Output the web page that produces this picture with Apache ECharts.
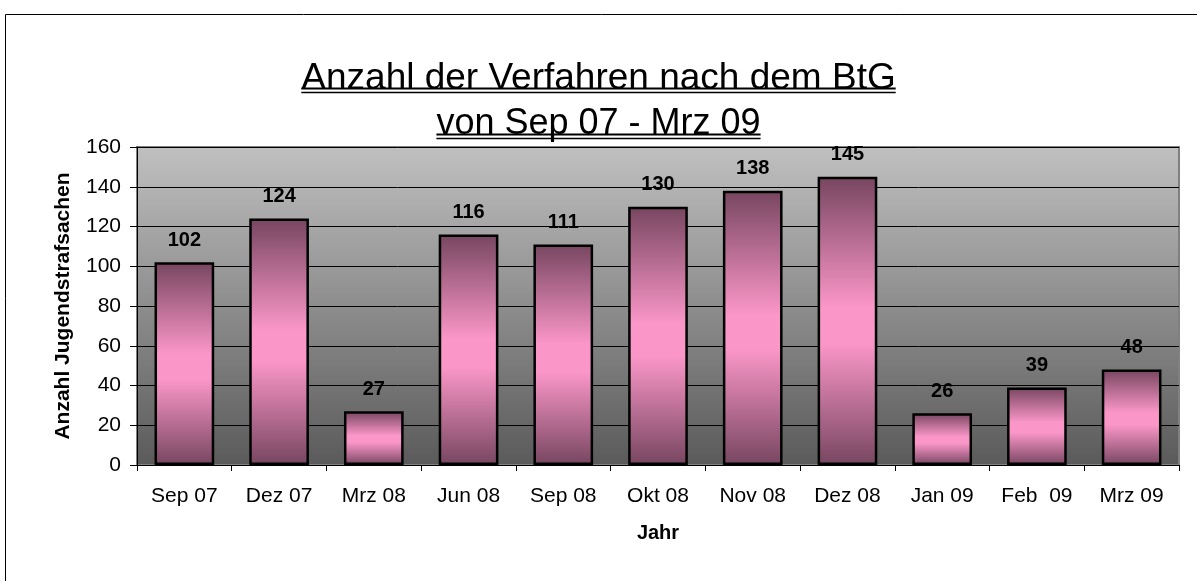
<!DOCTYPE html>
<html lang="de">
<head>
    <meta http-equiv="Content-Type" content="text/html; charset=utf-8">
    <script type="text/javascript" src="https://cdn.jsdelivr.net/npm/echarts@6/dist/echarts.min.js"></script>
    <title>Anzahl der Verfahren nach dem BtG</title>
    <style>
        html, body { margin: 0; padding: 0; background: #fff; }
        #chart { width: 1197px; height: 581px; }
    </style>
</head>
<body>
<div id="chart"></div>

<script>
// Monate (Kategorien) und Werte
const months = ['Sep 07', 'Dez 07', 'Mrz 08', 'Jun 08', 'Sep 08', 'Okt 08', 'Nov 08', 'Dez 08', 'Jan 09', 'Feb  09', 'Mrz 09'];
const verfahren = [102, 124, 27, 116, 111, 130, 138, 145, 26, 39, 48];
const titleLines = ['Anzahl der Verfahren nach dem BtG', 'von Sep 07 - Mrz 09'];

const FONT = 'Liberation Sans, Arial, sans-serif';
const W = 1197;

// Breite der Titelzeilen messen, damit die Unterstreichung passt
function textWidth(txt, size) {
    const ctx = document.createElement('canvas').getContext('2d');
    ctx.font = size + 'px ' + FONT;
    return ctx.measureText(txt).width;
}

function underline(txt, size, y) {
    const w = textWidth(txt, size);
    const x1 = W / 2 - w / 2, x2 = W / 2 + w / 2;
    return [
        { type: 'line', shape: { x1: x1, y1: y, x2: x2, y2: y }, style: { stroke: '#000', lineWidth: 2 } },
        { type: 'line', shape: { x1: x1, y1: y + 4, x2: x2, y2: y + 4 }, style: { stroke: '#000', lineWidth: 1.5 } }
    ];
}

let chart = echarts.init(document.getElementById('chart'));

const barColor = new echarts.graphic.LinearGradient(0, 0, 0, 1, [
    { offset: 0, color: '#774660' },
    { offset: 0.45, color: '#fa96c8' },
    { offset: 0.58, color: '#fa96c8' },
    { offset: 1, color: '#774660' }
]);

const option = {
    animation: false,
    title: [
        { text: titleLines[0], left: 'center', top: 55, textStyle: { fontFamily: FONT, fontSize: 37, fontWeight: 'normal', color: '#000' } },
        { text: titleLines[1], left: 'center', top: 101, textStyle: { fontFamily: FONT, fontSize: 36, fontWeight: 'normal', color: '#000' } }
    ],
    graphic: [
        { type: 'rect', shape: { x: 5.5, y: 14.5, width: 1400, height: 800 }, style: { fill: null, stroke: '#000', lineWidth: 1 } }
    ].concat(underline(titleLines[0], 37, 88.5), underline(titleLines[1], 36, 134.5)),
    grid: {
        left: 137,
        right: 18,
        top: 147,
        bottom: 116,
        show: true,
        borderColor: '#808080',
        borderWidth: 2,
        backgroundColor: new echarts.graphic.LinearGradient(0, 0, 0, 1, [
            { offset: 0, color: '#c0c0c0' },
            { offset: 1, color: '#5a5a5a' }
        ])
    },
    xAxis: {
        type: 'category',
        data: months,
        name: 'Jahr',
        nameLocation: 'middle',
        nameGap: 58,
        nameTextStyle: { fontFamily: FONT, fontSize: 20, fontWeight: 'bold', color: '#000' },
        axisLine: { lineStyle: { color: '#000', width: 1 } },
        axisTick: { show: true, length: 6, alignWithLabel: false, lineStyle: { color: '#000' } },
        axisLabel: { fontFamily: FONT, fontSize: 21, color: '#000', margin: 21, interval: 0 }
    },
    yAxis: {
        type: 'value',
        min: 0,
        max: 160,
        interval: 20,
        name: 'Anzahl Jugendstrafsachen',
        nameLocation: 'middle',
        nameGap: 63,
        nameTextStyle: { fontFamily: FONT, fontSize: 21, fontWeight: 'bold', color: '#000' },
        axisLine: { show: true, lineStyle: { color: '#000', width: 1 } },
        axisTick: { show: true, length: 7, lineStyle: { color: '#000' } },
        axisLabel: { fontFamily: FONT, fontSize: 21, color: '#000', margin: 16 },
        splitLine: { show: true, lineStyle: { color: '#000', width: 1 } }
    },
    series: [
        {
            type: 'bar',
            data: verfahren,
            barWidth: '63%',
            itemStyle: {
                color: barColor,
                borderColor: '#000',
                borderWidth: 2.5
            },
            label: {
                show: true,
                position: 'top',
                distance: 12,
                fontFamily: FONT,
                fontSize: 20,
                fontWeight: 'bold',
                color: '#000'
            }
        }
    ]
};

chart.setOption(option);
</script>
</body>
</html>
